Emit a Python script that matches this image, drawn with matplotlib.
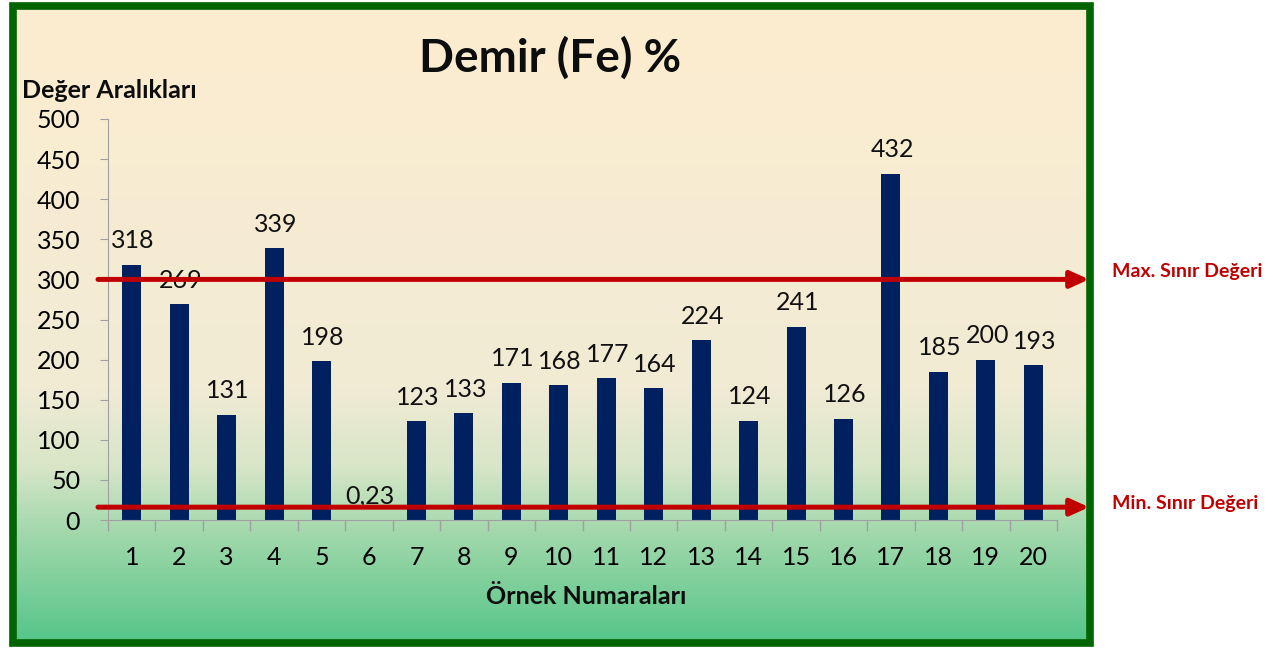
import numpy as np
import matplotlib
matplotlib.use("Agg")
import matplotlib.pyplot as plt
from matplotlib.colors import LinearSegmentedColormap
from matplotlib.patches import Rectangle

plt.rcParams["font.family"] = ["Lato", "DejaVu Sans"]

# data
samples = [str(i) for i in range(1, 21)]
values = [318, 269, 131, 339, 198, 0.23, 123, 133, 171, 168,
          177, 164, 224, 124, 241, 126, 432, 185, 200, 193]
value_labels = ["318", "269", "131", "339", "198", "0,23", "123", "133", "171", "168",
                "177", "164", "224", "124", "241", "126", "432", "185", "200", "193"]
max_limit = 300
min_limit = 16
yticks = [0, 50, 100, 150, 200, 250, 300, 350, 400, 450, 500]

W, H = 1273, 648
fig = plt.figure(figsize=(W / 100, H / 100), dpi=100)
fig.patch.set_facecolor("white")

# gradient background inside the green frame
fx0, fx1, fy0, fy1 = 13, 1090, 6, 643
bg = fig.add_axes([fx0 / W, 1 - fy1 / H, (fx1 - fx0) / W, (fy1 - fy0) / H])
bg.set_axis_off()
cmap = LinearSegmentedColormap.from_list(
    "bg", [(0.0, "#fdedcf"), (0.6, "#f1ebd5"), (0.72, "#d9e6c8"),
           (0.82, "#a6d9ad"), (1.0, "#55c588")])
grad = np.linspace(0, 1, 256).reshape(-1, 1)
bg.imshow(grad, aspect="auto", cmap=cmap, extent=[0, 1, 0, 1], origin="upper")
bg.set_xlim(0, 1)
bg.set_ylim(0, 1)
fig.patches.append(Rectangle((fx0 / W, 1 - fy1 / H), (fx1 - fx0) / W, (fy1 - fy0) / H,
                             transform=fig.transFigure, fill=False,
                             edgecolor="#006400", linewidth=5.5, zorder=5))

# main axes
ax_l, ax_r, ax_t, ax_b = 108, 1057, 119, 520
ax = fig.add_axes([ax_l / W, 1 - ax_b / H, (ax_r - ax_l) / W, (ax_b - ax_t) / H])
ax.patch.set_alpha(0)

x = np.arange(1, len(values) + 1)
ax.bar(x, values, width=0.4, color="#002060", zorder=2)
for xi, v, lab in zip(x, values, value_labels):
    ax.annotate(lab, (xi, v), xytext=(1, 9), textcoords="offset points",
                ha="center", va="bottom", fontsize=18, color="#111111")

ax.set_xlim(0.5, 20.5)
ax.set_ylim(0, 500)
ax.set_yticks(yticks)
ax.set_xticks(x)
ax.set_xticklabels(samples)
ax.set_xticks(np.arange(0.5, 21, 1), minor=True)
ax.tick_params(axis="x", which="major", length=0, pad=19, labelsize=18)
ax.tick_params(axis="x", which="minor", length=8, color="#a0a0a0", width=1)
ax.tick_params(axis="y", length=6, color="#a0a0a0", pad=14, labelsize=18)
for s in ["top", "right"]:
    ax.spines[s].set_visible(False)
for s in ["left", "bottom"]:
    ax.spines[s].set_color("#a0a0a0")

# limit lines with arrows, running past the axes
for lim in (max_limit, min_limit):
    ax.annotate("", xy=(1089 / W, lim), xycoords=("figure fraction", "data"),
                xytext=(98 / W, lim), textcoords=("figure fraction", "data"),
                arrowprops=dict(arrowstyle="-|>,head_length=1.1,head_width=0.5",
                                color="#c00000", lw=3.6, shrinkA=0, shrinkB=0),
                annotation_clip=False, zorder=4)

fig.text(1112 / W, 1 - 272 / H, "Max. Sınır Değeri", color="#c00000",
         fontsize=14, fontweight="bold", ha="left", va="center")
fig.text(1112 / W, 1 - 503 / H, "Min. Sınır Değeri", color="#c00000",
         fontsize=14, fontweight="bold", ha="left", va="center")

fig.text(550 / W, 1 - 58 / H, "Demir (Fe) %", fontsize=33, fontweight="bold",
         ha="center", va="center", color="#0d0d0d")
fig.text(22 / W, 1 - 90 / H, "Değer Aralıkları", fontsize=18, fontweight="bold",
         ha="left", va="center", color="#0d0d0d")
fig.text(586 / W, 1 - 597 / H, "Örnek Numaraları", fontsize=18, fontweight="bold",
         ha="center", va="center", color="#0d0d0d")

fig.savefig("out.png", dpi=100)
